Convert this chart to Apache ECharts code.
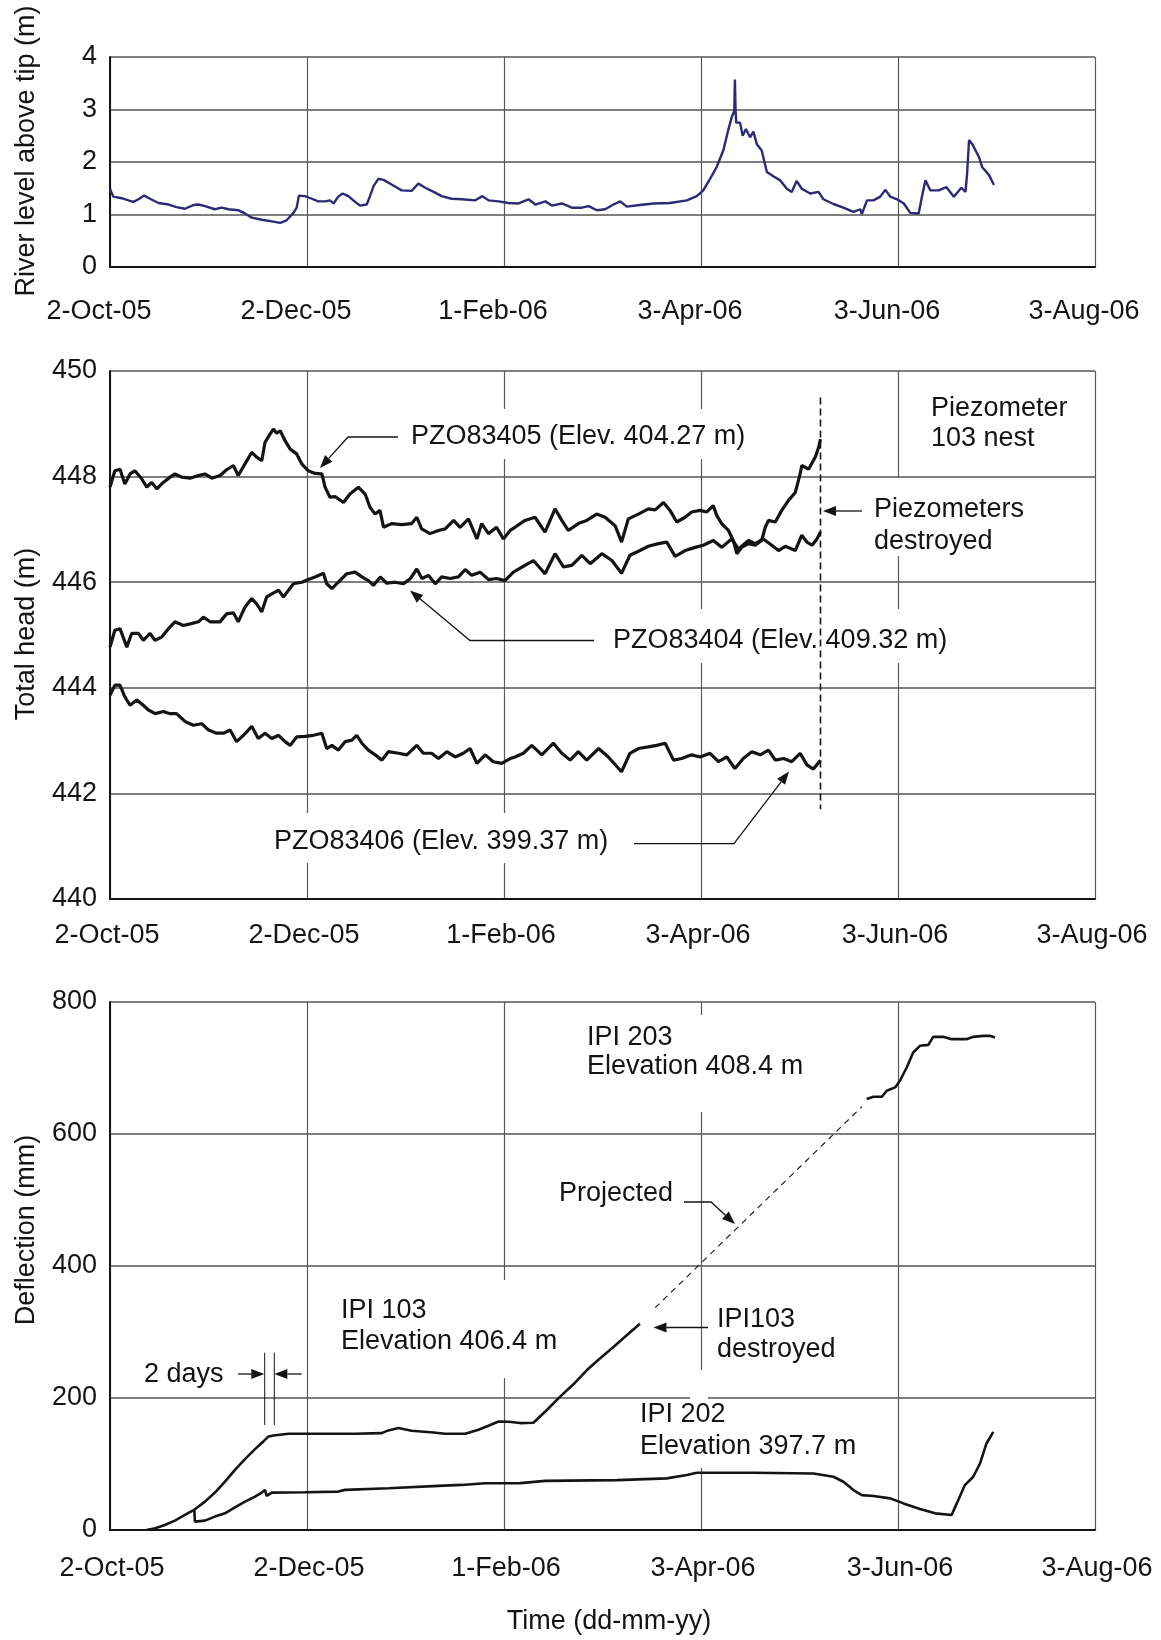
<!DOCTYPE html>
<html>
<head>
<meta charset="utf-8">
<title>River level, total head and deflection</title>
<style>
  html, body { margin: 0; background: #fff; }
  #main { width: 1161px; height: 1640px; }
</style>
</head>
<body>
<div id="main"></div>
<script src="https://cdn.jsdelivr.net/npm/echarts@6/dist/echarts.min.js"></script>
<script>
// x values are days counted from 2-Oct-05, ticks every 61 days
var tickLabels = ['2-Oct-05', '2-Dec-05', '1-Feb-06', '3-Apr-06', '3-Jun-06', '3-Aug-06'];

// river level above tip (m)
var riverDay = [0, 1.0, 3.6, 5.7, 7.2, 8.8, 10.6, 12.4, 15.0, 18.1, 20.6, 23.2, 25.8, 27.4, 29.4, 32.5,
  34.6, 36.7, 39.8, 41.8, 43.9, 47.0, 50.1, 52.7, 54.7, 56.8, 57.8, 58.5, 60.4, 62.5, 64.5, 66.6,
  68.1, 69.2, 70.7, 72.0, 73.8, 75.9, 77.4, 79.5, 80.5, 81.6, 83.1, 84.7, 87.2, 90.3, 93.4, 95.5,
  97.6, 100.2, 102.7, 105.8, 108.9, 113.1, 115.3, 117.2, 120.3, 123.4, 126.5, 129.6, 131.7, 134.8,
  136.8, 139.9, 143.0, 146.1, 148.2, 150.8, 153.3, 155.9, 158.0, 160.0, 164.1, 168.3, 173.4, 178.6,
  181.7, 183.7, 185.8, 187.8, 189.9, 191.4, 192.5, 193.3, 193.5, 193.7, 193.9, 195.1, 195.9, 196.9,
  198.2, 199.2, 200.3, 201.8, 203.4, 205.4, 207.5, 209.6, 211.1, 212.6, 214.2, 216.8, 219.4, 220.9,
  224.0, 227.1, 230.2, 232.3, 232.8, 234.4, 236.4, 238.5, 240.1, 241.6, 243.7, 245.8, 247.8, 250.4,
  251.4, 252.5, 254.0, 256.6, 259.0, 261.3, 263.6, 264.9, 265.4, 266.0, 267.0, 269.1, 270.1, 272.2, 273.7];
var riverLevel = [1.49, 1.34, 1.31, 1.27, 1.24, 1.29, 1.36, 1.30, 1.22, 1.19, 1.14, 1.11, 1.18, 1.19, 1.16, 1.10,
  1.13, 1.10, 1.08, 1.02, 0.94, 0.90, 0.87, 0.84, 0.89, 1.03, 1.13, 1.36, 1.35, 1.30, 1.25, 1.25,
  1.27, 1.21, 1.34, 1.40, 1.35, 1.24, 1.17, 1.19, 1.35, 1.54, 1.68, 1.66, 1.57, 1.46, 1.45, 1.59,
  1.51, 1.43, 1.35, 1.30, 1.29, 1.27, 1.35, 1.27, 1.25, 1.22, 1.21, 1.29, 1.19, 1.25,
  1.17, 1.21, 1.13, 1.13, 1.16, 1.08, 1.10, 1.19, 1.25, 1.15, 1.18, 1.21, 1.22, 1.27,
  1.35, 1.46, 1.68, 1.90, 2.22, 2.60, 2.85, 2.97, 3.57, 3.00, 2.75, 2.75, 2.50, 2.63,
  2.47, 2.58, 2.34, 2.22, 1.81, 1.73, 1.65, 1.49, 1.43, 1.64, 1.49, 1.40, 1.43, 1.29,
  1.20, 1.13, 1.05, 1.10, 1.01, 1.27, 1.27, 1.34, 1.47, 1.34, 1.29, 1.21, 1.03, 1.02,
  1.34, 1.65, 1.46, 1.46, 1.52, 1.34, 1.51, 1.43, 1.78, 2.42, 2.34, 2.09, 1.90, 1.75, 1.56];

// total head (m)
var pz05Day = [0, 1.5, 3.1, 4.6, 6.2, 7.7, 9.8, 11.4, 12.9, 14.5, 16.5, 18.6, 20.1, 22.2, 24.8, 27.4,
  29.4, 31.5, 34.1, 36.1, 38.2, 39.7, 41.8, 43.9, 45.4, 47.0, 48.0, 49.6, 50.6, 51.6, 52.7, 54.2,
  55.8, 57.8, 59.4, 61.4, 63.5, 65.6, 66.6, 68.1, 69.7, 72.3, 74.3, 76.9, 79.0, 80.5, 82.1, 83.6,
  84.7, 87.2, 90.3, 93.4, 95.0, 96.5, 99.1, 101.7, 103.8, 106.4, 108.4, 111.0, 112.5, 113.6, 115.1,
  117.2, 119.7, 121.8, 123.9, 125.4, 128.5, 131.6, 134.7, 137.8, 139.9, 141.9, 145.0, 147.6, 150.7,
  153.3, 156.4, 158.4, 160.5, 163.6, 166.7, 168.8, 171.4, 173.4, 175.5, 178.1, 180.1, 182.7, 184.8,
  186.8, 187.9, 189.4, 191.5, 193.0, 194.1, 195.6, 197.7, 199.8, 201.8, 202.9, 203.9, 206.0, 208.0,
  210.1, 212.2, 213.7, 214.2, 216.3, 218.4, 219.4, 220.0];
var pz05Head = [447.80, 448.11, 448.14, 447.86, 448.05, 448.11, 447.96, 447.80, 447.89, 447.77, 447.89, 447.99, 448.05, 447.99, 447.97, 448.02,
  448.05, 447.97, 448.02, 448.13, 448.21, 448.02, 448.24, 448.46, 448.37, 448.30, 448.65, 448.81, 448.90, 448.82, 448.87, 448.68,
  448.52, 448.43, 448.24, 448.11, 448.06, 448.05, 447.80, 447.61, 447.62, 447.51, 447.67, 447.80, 447.67, 447.42, 447.29, 447.36,
  447.04, 447.11, 447.09, 447.11, 447.23, 447.01, 446.92, 446.98, 447.01, 447.17, 447.04, 447.20, 446.98, 446.82, 447.11,
  446.92, 447.04, 446.82, 446.98, 447.04, 447.17, 447.23, 446.95, 447.39, 447.17, 446.98, 447.11, 447.17, 447.29,
  447.23, 447.07, 446.76, 447.20, 447.29, 447.39, 447.37, 447.51, 447.36, 447.14, 447.23, 447.33, 447.36, 447.33,
  447.45, 447.26, 447.11, 446.98, 446.79, 446.54, 446.66, 446.73, 446.70, 446.79, 447.04, 447.17, 447.14, 447.36,
  447.55, 447.70, 448.05, 448.21, 448.14, 448.37, 448.55, 448.71];

var pz04Day = [0, 1.5, 3.1, 5.2, 6.7, 8.8, 10.3, 12.4, 13.9, 16.0, 18.1, 20.1, 22.7, 24.8, 27.4, 28.9,
  31.0, 34.1, 36.1, 38.2, 39.7, 41.8, 43.9, 45.4, 47.0, 48.5, 50.1, 52.2, 53.7, 55.3, 56.8, 59.4,
  61.4, 63.5, 66.1, 67.1, 68.7, 70.7, 73.3, 75.9, 78.0, 80.0, 81.6, 83.7, 85.7, 88.3, 90.9, 93.0,
  95.0, 96.6, 98.6, 100.7, 102.7, 105.3, 107.9, 110.0, 112.0, 114.6, 117.2, 119.7, 122.3, 124.9,
  128.5, 131.1, 134.7, 137.8, 140.4, 143.0, 146.1, 148.7, 152.3, 155.4, 158.4, 161.0, 164.1, 166.7,
  169.8, 172.4, 175.0, 178.1, 181.2, 183.7, 186.8, 189.4, 192.5, 194.6, 197.7, 199.8, 202.3, 204.9,
  207.0, 209.1, 212.2, 214.2, 215.8, 217.4, 218.9, 220.0];
var pz04Head = [444.77, 445.09, 445.12, 444.77, 445.03, 445.03, 444.90, 445.03, 444.90, 444.96, 445.12, 445.25, 445.18, 445.21, 445.25, 445.34,
  445.25, 445.25, 445.40, 445.42, 445.25, 445.53, 445.69, 445.59, 445.44, 445.72, 445.78, 445.85, 445.72, 445.85, 445.97, 446.00,
  446.05, 446.10, 446.17, 445.97, 445.88, 446.00, 446.16, 446.19, 446.10, 446.03, 445.94, 446.10, 445.98, 446.00, 445.97, 446.07,
  446.25, 446.07, 446.13, 445.97, 446.10, 446.07, 446.10, 446.24, 446.13, 446.19, 446.05, 446.07, 446.03, 446.19,
  446.32, 446.41, 446.16, 446.54, 446.29, 446.32, 446.51, 446.35, 446.54, 446.41, 446.17, 446.51, 446.60, 446.68,
  446.73, 446.76, 446.49, 446.60, 446.66, 446.70, 446.79, 446.66, 446.82, 446.63, 446.79, 446.73, 446.82, 446.70,
  446.60, 446.68, 446.60, 446.89, 446.76, 446.70, 446.82, 446.95];

var pz06Day = [0, 1.5, 3.1, 4.6, 6.2, 8.3, 10.3, 11.9, 14.0, 16.5, 18.6, 20.6, 23.3, 25.8, 28.4, 30.5,
  33.0, 35.1, 37.2, 39.2, 41.3, 43.9, 45.9, 48.0, 50.1, 52.2, 54.2, 55.8, 57.8, 60.4, 63.0, 65.6,
  67.1, 68.7, 70.7, 72.8, 74.9, 76.4, 78.0, 80.0, 82.1, 84.2, 86.2, 89.3, 91.9, 95.0, 97.0, 99.6,
  101.7, 104.3, 106.9, 109.4, 111.5, 113.6, 116.2, 118.7, 121.3, 123.9, 125.4, 128.0, 130.6, 133.7,
  137.3, 139.9, 142.5, 145.0, 147.6, 151.3, 154.3, 158.4, 161.0, 163.6, 166.7, 169.3, 171.9, 174.5,
  177.0, 180.1, 182.7, 185.8, 188.4, 191.0, 193.5, 196.1, 198.7, 201.3, 203.9, 206.0, 208.6, 211.1,
  213.7, 215.8, 217.8, 220.0];
var pz06Head = [443.86, 444.05, 444.05, 443.83, 443.67, 443.77, 443.67, 443.58, 443.51, 443.55, 443.51, 443.51, 443.36, 443.29, 443.32, 443.20,
  443.14, 443.14, 443.20, 442.98, 443.10, 443.27, 443.04, 443.14, 443.04, 443.10, 442.98, 442.91, 443.07, 443.08, 443.10, 443.14,
  442.85, 442.91, 442.82, 442.98, 443.01, 443.10, 442.95, 442.82, 442.73, 442.63, 442.79, 442.76, 442.73, 442.91, 442.76, 442.76,
  442.66, 442.79, 442.69, 442.76, 442.85, 442.57, 442.73, 442.60, 442.57, 442.66, 442.69, 442.76, 442.91, 442.73,
  442.95, 442.76, 442.63, 442.79, 442.63, 442.85, 442.69, 442.41, 442.76, 442.85, 442.88, 442.91, 442.95, 442.63,
  442.66, 442.73, 442.69, 442.76, 442.60, 442.69, 442.47, 442.66, 442.79, 442.73, 442.82, 442.63, 442.66, 442.60,
  442.76, 442.54, 442.46, 442.63];

// piezometers destroyed (dashed marker)
var destroyedDay = [220, 220];
var destroyedHead = [449.5, 441.7];

// deflection (mm)
var ipi103Day = [11.3, 14.0, 17.0, 20.1, 23.2, 26.3, 29.4, 32.5, 35.6, 38.7, 41.8, 44.9, 47.5, 49.1, 50.6,
  55.3, 65.6, 75.9, 84.1, 86.2, 89.3, 93.4, 100.1, 103.8, 110.0, 114.1, 117.2, 120.3, 123.4, 127.0,
  131.1, 135.2, 139.3, 143.5, 147.6, 151.7, 155.9, 160.0, 164.1];
var ipi103Defl = [0, 2.5, 7.6, 14.2, 22.8, 31.4, 43, 56.7, 73.4, 91.1, 107.3, 122.5, 134.2, 141.8, 143.3,
  145.8, 145.8, 145.8, 146.8, 150.9, 154.4, 150.4, 147.8, 145.8, 145.8, 151.9, 158, 164.5, 164, 162,
  162.5, 181.5, 201.7, 220.8, 242, 259.7, 277.3, 295, 312.6];

var projectedDay = [168.8, 232.8];
var projectedDefl = [336.8, 641.3];

var ipi203Day = [234.3, 236.4, 239.0, 240.5, 243.1, 244.6, 246.7, 248.7, 250.8, 253.4, 254.9, 258.0,
  260.6, 265.2, 267.3, 270.4, 272.4, 274.0];
var ipi203Defl = [652.9, 656.5, 656.5, 665.5, 670.6, 680.7, 700.8, 723.5, 733.6, 735.1, 747.2, 747.2,
  743.7, 743.7, 747.2, 748.7, 748.7, 746.2];

var ipi202Day = [26.1, 26.3, 29.4, 32.5, 35.6, 38.7, 41.8, 44.9, 47.0, 48.0, 48.5, 50.1, 60.4, 70.7, 72.8,
  86.2, 101.7, 108.9, 116.2, 127.0, 134.8, 157.0, 172.4, 178.6, 181.7, 199.2, 217.8, 224.0, 227.1,
  230.2, 232.8, 236.4, 241.6, 245.7, 250.8, 255.5, 260.6, 262.2, 264.7, 267.3, 269.4, 271.4, 273.5];
var ipi202Defl = [30.4, 12.7, 14.2, 20.3, 25.3, 34.4, 43, 50.6, 56.7, 60.8, 51.6, 56.7, 57.2, 58.2, 60.8,
  63.3, 66.8, 68.3, 70.9, 71, 74.4, 75.6, 78.2, 83.2, 86.7, 86.7, 85.7, 80.7, 73.1,
  60.5, 52.9, 51.4, 47.9, 40.3, 31.8, 25.2, 22.7, 40.3, 68.1, 80.7, 100.8, 131.1, 148.7];

var FONT = '"Liberation Sans", Arial, Helvetica, sans-serif';
var INK = '#141414';

function pairs(xs, ys) {
  return xs.map(function (x, i) { return [x, ys[i]]; });
}

function xAxisFor(grid, margin, shift) {
  return {
    type: 'value', gridIndex: grid, min: 0, max: 305, interval: 61,
    axisLine: { show: true, onZero: false, lineStyle: { color: INK, width: 2 } },
    axisTick: { show: false },
    axisLabel: {
      margin: margin, fontSize: 27, color: INK, fontFamily: FONT,
      padding: shift < 0 ? [0, -2 * shift, 0, 0] : [0, 0, 0, 2 * shift],
      formatter: function (v) { return tickLabels[Math.round(v / 61)]; }
    },
    splitLine: { show: true, lineStyle: { color: '#5a5a5a', width: 1.2 } }
  };
}

function yAxisFor(grid, min, max, step) {
  return {
    type: 'value', gridIndex: grid, min: min, max: max, interval: step,
    axisLine: { show: true, onZero: false, lineStyle: { color: INK, width: 2 } },
    axisTick: { show: false },
    axisLabel: { margin: 13, fontSize: 27, color: INK, fontFamily: FONT },
    splitLine: { show: true, lineStyle: { color: '#555', width: 1.5 } }
  };
}

function line(grid, data, color, width, dash) {
  return {
    type: 'line', xAxisIndex: grid, yAxisIndex: grid, data: data,
    showSymbol: false, symbol: 'none', silent: true,
    lineStyle: { color: color, width: width, type: dash || 'solid' }
  };
}

// annotation helpers (pixel positions)
function label(text, x, y, extra) {
  var el = {
    type: 'text', x: x, y: y, z: 10,
    style: {
      text: text, fill: INK, font: '27px ' + FONT,
      textAlign: 'left', textVerticalAlign: 'middle', align: 'left', verticalAlign: 'middle'
    }
  };
  if (extra) {
    for (var k in extra) el[k] = extra[k];
  }
  return el;
}

function leader(pts) {
  var n = pts.length;
  var tip = pts[n - 1], prev = pts[n - 2];
  var dx = tip[0] - prev[0], dy = tip[1] - prev[1];
  var len = Math.sqrt(dx * dx + dy * dy);
  dx /= len; dy /= len;
  var bx = tip[0] - dx * 13, by = tip[1] - dy * 13;
  var linePts = pts.slice(0, n - 1).concat([[bx, by]]);
  return [
    { type: 'polyline', z: 10, shape: { points: linePts }, style: { stroke: INK, lineWidth: 1.3, fill: null } },
    { type: 'polygon', z: 10, shape: { points: [tip, [bx - dy * 5, by + dx * 5], [bx + dy * 5, by - dx * 5]] }, style: { fill: INK } }
  ];
}

function mask(x, y, w, h) {
  return { type: 'rect', z: 1, shape: { x: x, y: y, width: w, height: h }, style: { fill: '#fff' } };
}

var rot = { rotation: Math.PI / 2 };
function axisTitle(text, x, y, rotate) {
  var el = label(text, x, y, rotate ? rot : null);
  el.style.textAlign = 'center';
  el.style.align = 'center';
  return el;
}

var graphics = [
  mask(400, 409, 350, 50),
  mask(605, 609, 350, 54),
  mask(866, 478, 180, 78),
  mask(266, 813, 350, 50),
  mask(578, 1015, 240, 97),
  mask(335, 1280, 225, 98),
  mask(690, 1370, 18, 98),

  axisTitle('River level above tip (m)', 27, 151, true),
  axisTitle('Total head (m)', 27, 634, true),
  axisTitle('Deflection (mm)', 27, 1230, true),
  axisTitle('Time (dd-mm-yy)', 609, 1622, false),

  label('PZO83405 (Elev. 404.27 m)', 411, 437),
  label('PZO83404 (Elev. 409.32 m)', 613, 641),
  label('PZO83406 (Elev. 399.37 m)', 274, 842),
  label('Piezometer', 931, 409),
  label('103 nest', 931, 439),
  label('Piezometers', 874, 510),
  label('destroyed', 874, 542),

  label('IPI 203', 587, 1038),
  label('Elevation 408.4 m', 587, 1067),
  label('Projected', 559, 1194),
  label('IPI 103', 341, 1311),
  label('Elevation 406.4 m', 341, 1342),
  label('IPI103', 717, 1320),
  label('destroyed', 717, 1350),
  label('IPI 202', 640, 1415),
  label('Elevation 397.7 m', 640, 1447),
  label('2 days', 144, 1375),

  { type: 'line', z: 10, shape: { x1: 264.7, y1: 1352.7, x2: 264.7, y2: 1425 }, style: { stroke: INK, lineWidth: 1 } },
  { type: 'line', z: 10, shape: { x1: 274.3, y1: 1352.7, x2: 274.3, y2: 1425 }, style: { stroke: INK, lineWidth: 1 } }
].concat(
  leader([[398, 437], [348, 437], [320, 468]]),
  leader([[594, 640.5], [470, 640.5], [410, 590.5]]),
  leader([[634, 843.6], [734, 843.6], [789, 771.5]]),
  leader([[862, 511], [823, 511]]),
  leader([[684, 1202], [711, 1202], [735, 1224]]),
  leader([[708, 1327.5], [653.5, 1327.5]]),
  leader([[238, 1374], [264.3, 1374]]),
  leader([[301.7, 1374], [274.3, 1374]])
);

var chart = echarts.init(document.getElementById('main'), null, { renderer: 'canvas' });
chart.setOption({
  animation: false,
  backgroundColor: '#fff',
  textStyle: { fontFamily: FONT },
  grid: [
    { left: 110, top: 57, width: 985, height: 210, outerBoundsMode: 'none' },
    { left: 110, top: 371, width: 985, height: 528, outerBoundsMode: 'none' },
    { left: 110, top: 1002, width: 985, height: 528, outerBoundsMode: 'none' }
  ],
  xAxis: [xAxisFor(0, 31, -11), xAxisFor(1, 23, -3), xAxisFor(2, 25, 2)],
  yAxis: [yAxisFor(0, 0, 4, 1), yAxisFor(1, 440, 450, 2), yAxisFor(2, 0, 800, 200)],
  series: [
    line(0, pairs(riverDay, riverLevel), '#2c2a76', 2.4),
    line(1, pairs(pz05Day, pz05Head), INK, 3.2),
    line(1, pairs(pz04Day, pz04Head), INK, 3.2),
    line(1, pairs(pz06Day, pz06Head), INK, 3.2),
    line(1, pairs(destroyedDay, destroyedHead), INK, 1.6, [7, 4]),
    line(2, pairs(ipi103Day, ipi103Defl), INK, 2.6),
    line(2, pairs(projectedDay, projectedDefl), INK, 1.1, [6, 5]),
    line(2, pairs(ipi203Day, ipi203Defl), INK, 2.6),
    line(2, pairs(ipi202Day, ipi202Defl), INK, 2.6)
  ],
  graphic: graphics
});
</script>
</body>
</html>
